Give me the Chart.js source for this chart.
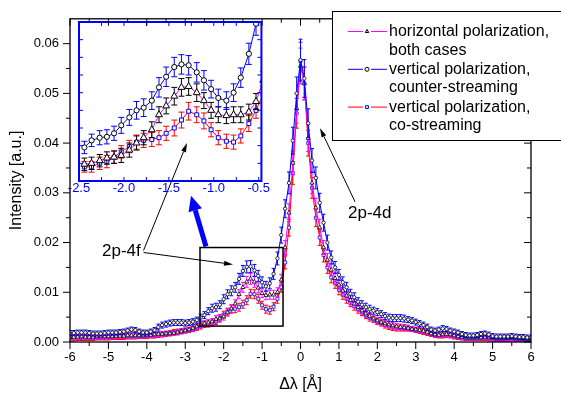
<!DOCTYPE html>
<html>
<head>
<meta charset="utf-8">
<script src="https://cdn.jsdelivr.net/npm/chart.js@4.4.1/dist/chart.umd.min.js"></script>
<style>
  html, body { margin: 0; padding: 0; background: #fff; }
  #wrap { position: relative; width: 561px; height: 394px; overflow: hidden; }
  #main { position: absolute; left: 0; top: 0; z-index: 2; }
  #inset { position: absolute; left: 64px; top: 17px; z-index: 1; }
</style>
</head>
<body>
<div id="wrap">
  <canvas id="inset" width="206" height="184"></canvas>
  <canvas id="main" width="561" height="394"></canvas>
</div>
<script>
// wavelength shift, Å
var xShift = [
  -6.0, -5.9, -5.8, -5.7, -5.6, -5.5, -5.4, -5.3, -5.2, -5.1,
  -5.0, -4.9, -4.8, -4.7, -4.6, -4.5, -4.4, -4.3, -4.2, -4.1,
  -4.0, -3.9, -3.8, -3.7, -3.6, -3.5, -3.4, -3.3, -3.2, -3.1,
  -3.0, -2.9, -2.8, -2.7, -2.6, -2.5, -2.4, -2.3, -2.2, -2.1,
  -2.0, -1.9, -1.8, -1.7, -1.6, -1.5, -1.4, -1.3, -1.2, -1.1,
  -1.0, -0.9, -0.8, -0.7, -0.6, -0.5, -0.4, -0.3, -0.2, -0.1,
  0.0, 0.1, 0.2, 0.3, 0.4, 0.5, 0.6, 0.7, 0.8, 0.9,
  1.0, 1.1, 1.2, 1.3, 1.4, 1.5, 1.6, 1.7, 1.8, 1.9,
  2.0, 2.1, 2.2, 2.3, 2.4, 2.5, 2.6, 2.7, 2.8, 2.9,
  3.0, 3.1, 3.2, 3.3, 3.4, 3.5, 3.6, 3.7, 3.8, 3.9,
  4.0, 4.1, 4.2, 4.3, 4.4, 4.5, 4.6, 4.7, 4.8, 4.9,
  5.0, 5.1, 5.2, 5.3, 5.4, 5.5, 5.6, 5.7, 5.8, 5.9,
  6.0
];

// horizontal polarization, both cases
var yHoriz = [
  .0010, .0010, .0010, .0011, .0010, .0010, .0010, .0011, .0011, .0011,
  .0011, .0011, .0012, .0012, .0012, .0013, .0013, .0013, .0013, .0013,
  .0014, .0014, .0015, .0016, .0016, .0017, .0017, .0018, .0019, .0021,
  .0023, .0025, .0028, .0031, .0034, .0037, .0039, .0041, .0046, .0047,
  .0051, .0059, .0067, .0077, .0096, .0110, .0121, .0127, .0121, .0109,
  .0098, .0094, .0095, .0095, .0100, .0125, .0190, .0260, .0360, .0470,
  .0555, .0520, .0410, .0320, .0270, .0230, .0190, .0165, .0145, .0128,
  .0115, .0103, .0093, .0084, .0077, .0070, .0063, .0057, .0052, .0047,
  .0043, .0040, .0037, .0035, .0033, .0031, .0030, .0029, .0028, .0026,
  .0025, .0024, .0022, .0020, .0017, .0015, .0014, .0015, .0016, .0015,
  .0013, .0011, .0010, .0009, .0008, .0009, .0009, .0009, .0010, .0009,
  .0008, .0007, .0007, .0007, .0008, .0008, .0007, .0007, .0006, .0006,
  .0006
];

// vertical polarization, counter-streaming
var yVertCounter = [
  .0018, .0018, .0019, .0019, .0019, .0018, .0017, .0017, .0017, .0018,
  .0019, .0019, .0019, .0020, .0021, .0023, .0025, .0024, .0021, .0019,
  .0019, .0021, .0024, .0030, .0034, .0036, .0038, .0039, .0039, .0039,
  .0038, .0039, .0041, .0044, .0049, .0054, .0062, .0068, .0070, .0075,
  .0086, .0096, .0103, .0110, .0127, .0143, .0151, .0152, .0144, .0133,
  .0120, .0112, .0118, .0137, .0168, .0215, .0268, .0320, .0405, .0500,
  .0567, .0530, .0440, .0365, .0330, .0280, .0240, .0200, .0170, .0150,
  .0135, .0120, .0110, .0097, .0090, .0081, .0075, .0070, .0066, .0063,
  .0060, .0056, .0052, .0049, .0048, .0048, .0048, .0047, .0045, .0043,
  .0040, .0037, .0034, .0030, .0025, .0023, .0025, .0027, .0026, .0023,
  .0021, .0019, .0016, .0014, .0013, .0013, .0014, .0016, .0017, .0015,
  .0012, .0011, .0011, .0011, .0011, .0012, .0011, .0010, .0010, .0009,
  .0009
];

// vertical polarization, co-streaming
var yVertCo = [
  .0007, .0007, .0008, .0008, .0008, .0008, .0008, .0009, .0009, .0009,
  .0009, .0010, .0010, .0010, .0010, .0011, .0011, .0011, .0012, .0012,
  .0012, .0013, .0013, .0014, .0015, .0016, .0018, .0020, .0021, .0022,
  .0023, .0024, .0026, .0029, .0032, .0035, .0036, .0038, .0041, .0048,
  .0055, .0061, .0066, .0067, .0070, .0076, .0084, .0097, .0096, .0087,
  .0074, .0066, .0064, .0071, .0087, .0110, .0160, .0230, .0340, .0460,
  .0565, .0520, .0400, .0310, .0250, .0210, .0175, .0150, .0130, .0118,
  .0105, .0095, .0087, .0079, .0072, .0066, .0060, .0054, .0049, .0045,
  .0041, .0038, .0034, .0031, .0029, .0028, .0028, .0028, .0027, .0026,
  .0024, .0022, .0020, .0018, .0016, .0014, .0013, .0013, .0014, .0013,
  .0011, .0010, .0009, .0008, .0008, .0008, .0008, .0008, .0008, .0007,
  .0007, .0006, .0006, .0006, .0006, .0007, .0006, .0006, .0006, .0005,
  .0005
];

// error bar half heights, in units of 1e-4
var ERR_UNIT = 1e-4;
var errHoriz = [
  5, 5, 5, 5, 5, 5, 5, 5, 5, 5,
  5, 5, 5, 5, 5, 5, 5, 5, 5, 5,
  5, 5, 5, 5, 5, 5, 5, 5, 5, 5,
  5, 5, 6, 6, 6, 6, 6, 6, 7, 7,
  7, 7, 8, 8, 9, 10, 11, 11, 11, 10,
  9, 9, 9, 9, 9, 11, 14, 18, 24, 30,
  36, 33, 27, 22, 19, 17, 14, 13, 12, 11,
  10, 10, 9, 9, 8, 8, 7, 7, 7, 7,
  6, 6, 6, 6, 6, 6, 6, 6, 6, 5,
  5, 5, 5, 5, 5, 5, 5, 5, 5, 5,
  5, 5, 5, 5, 5, 5, 5, 5, 5, 5,
  5, 5, 5, 5, 5, 5, 5, 5, 5, 5,
  5
];
var errVertCounter = [
  5, 5, 5, 5, 5, 5, 5, 5, 5, 5,
  5, 5, 5, 5, 5, 5, 5, 5, 5, 5,
  5, 5, 5, 6, 6, 6, 6, 6, 6, 6,
  6, 6, 6, 6, 7, 7, 7, 8, 8, 8,
  9, 9, 10, 10, 11, 11, 12, 12, 12, 11,
  11, 10, 11, 11, 13, 16, 18, 22, 27, 33,
  42, 38, 29, 24, 22, 19, 17, 15, 13, 12,
  11, 11, 10, 9, 9, 8, 8, 8, 8, 7,
  7, 7, 7, 7, 7, 7, 7, 7, 6, 6,
  6, 6, 6, 6, 5, 5, 5, 6, 5, 5,
  5, 5, 5, 5, 5, 5, 5, 5, 5, 5,
  5, 5, 5, 5, 5, 5, 5, 5, 5, 5,
  5
];
var errVertCo = [
  5, 5, 5, 5, 5, 5, 5, 5, 5, 5,
  5, 5, 5, 5, 5, 5, 5, 5, 5, 5,
  5, 5, 5, 5, 5, 5, 5, 5, 5, 5,
  5, 5, 5, 6, 6, 6, 6, 6, 6, 7,
  7, 7, 8, 8, 8, 8, 9, 9, 9, 9,
  8, 8, 8, 8, 9, 10, 13, 17, 23, 30,
  38, 33, 26, 21, 18, 16, 14, 12, 11, 10,
  10, 9, 9, 8, 8, 8, 7, 7, 7, 6,
  6, 6, 6, 6, 6, 6, 6, 6, 5, 5,
  5, 5, 5, 5, 5, 5, 5, 5, 5, 5,
  5, 5, 5, 5, 5, 5, 5, 5, 5, 5,
  5, 5, 5, 5, 5, 5, 5, 5, 5, 5,
  5
];

// inset: the 2p-4f region, read at its own finer sampling
var insetX = [-2.44, -2.36, -2.27, -2.19, -2.11, -2.03, -1.94, -1.86, -1.78, -1.69, -1.61, -1.53,
  -1.44, -1.36, -1.28, -1.19, -1.11, -1.03, -0.95, -0.86, -0.78, -0.70, -0.61, -0.53, -0.45];
var insetHoriz = [.0039, .0040, .0043, .0046, .0047, .0049, .0055, .0063, .0069, .0078, .0095, .0105,
  .0116, .0126, .0127, .0120, .0111, .0100, .0095, .0094, .0095, .0095, .0098, .0110, .0134];
var insetVertCounter = [.0058, .0066, .0069, .0070, .0074, .0083, .0092, .0100, .0103, .0111, .0126, .0138,
  .0149, .0152, .0151, .0143, .0134, .0124, .0114, .0111, .0120, .0137, .0164, .0198];
var insetVertCo = [.0036, .0036, .0040, .0042, .0047, .0053, .0059, .0064, .0066, .0067, .0069, .0074,
  .0080, .0089, .0099, .0095, .0088, .0078, .0069, .0065, .0064, .0071, .0085, .0100, .0118];
var insetErrHoriz = [7, 7, 7, 7, 7, 8, 8, 8, 8, 9, 9, 9, 10, 10, 10, 10, 9, 9, 9, 9, 9, 9, 9, 9, 10];
var insetErrVertCounter = [7, 7, 8, 8, 8, 9, 9, 10, 10, 10, 11, 11, 11, 11, 11, 11, 11, 10, 10, 10, 10, 11, 12, 13];
var insetErrVertCo = [6, 6, 7, 7, 7, 7, 7, 8, 8, 8, 8, 8, 9, 9, 10, 9, 9, 8, 8, 8, 8, 8, 9, 9, 10];

var xTicks = { min: -6, max: 6, step: 1 };
var yTicks = { min: 0, max: 0.065, step: 0.01 };
var insetRange = { xmin: -2.5, xmax: -0.47, ymin: 0.002, ymax: 0.020 };

// annotations, in axis units (Å, a.u.)
var zoomBox = [-2.616, 0.0032, -0.455, 0.0190];
var label4d = { text: "2p-4d", x: 1.236, y: 0.0258 };
var arrow4d = [1.42, 0.0282, 0.508, 0.0430];
var label4f = { text: "2p-4f", x: -5.167, y: 0.0182 };
var arrow4fInset = [-4.086, 0.0184, -2.954, 0.0400];
var arrow4fPeak = [-4.086, 0.0180, -1.757, 0.0156];
var zoomArrow = [-2.46, 0.0192, -2.85, 0.0294];

var BLUE = "#0000ff", MAGENTA = "#ff00ff", RED = "#ff0000", BLACK = "#000000";
var FONT = "'Liberation Sans', Arial, Helvetica, sans-serif";

Chart.defaults.font.family = FONT;
Chart.defaults.color = BLACK;

function toPoints(xs, ys) {
  return ys.map(function (y, i) { return { x: xs[i], y: y }; });
}

function toErrors(list) {
  return list.map(function (e) { return e * ERR_UNIT; });
}

function series(label, xs, ys, errs, lineColor, errColor, style, radius, markColor, cap, markWidth) {
  return {
    label: label,
    data: toPoints(xs, ys),
    errors: toErrors(errs),
    errColor: errColor,
    cap: cap,
    borderColor: lineColor,
    borderWidth: 1,
    pointStyle: style,
    pointRadius: radius,
    pointBorderColor: markColor,
    pointBackgroundColor: "#fff",
    pointBorderWidth: markWidth,
    tension: 0,
    fill: false
  };
}

var errorBars = {
  id: "errorBars",
  beforeDatasetDraw: function (chart, args) {
    var ds = chart.data.datasets[args.index];
    if (!ds.errors) return;
    var ctx = chart.ctx, ys = chart.scales.y, a = chart.chartArea, cap = ds.cap;
    ctx.save();
    ctx.beginPath();
    ctx.rect(a.left, a.top, a.right - a.left, a.bottom - a.top);
    ctx.clip();
    ctx.strokeStyle = ds.errColor;
    ctx.lineWidth = 1;
    ctx.beginPath();
    args.meta.data.forEach(function (pt, i) {
      var v = ds.data[i].y, e = ds.errors[i];
      var t = ys.getPixelForValue(v + e), b = ys.getPixelForValue(v - e);
      ctx.moveTo(pt.x, t); ctx.lineTo(pt.x, b);
      ctx.moveTo(pt.x - cap, t); ctx.lineTo(pt.x + cap, t);
      ctx.moveTo(pt.x - cap, b); ctx.lineTo(pt.x + cap, b);
    });
    ctx.stroke();
    ctx.restore();
  }
};

function arrow(ctx, x1, y1, x2, y2, len, half, color, width) {
  var a = Math.atan2(y2 - y1, x2 - x1);
  var bx = x2 - len * Math.cos(a), by = y2 - len * Math.sin(a);
  ctx.strokeStyle = color; ctx.fillStyle = color; ctx.lineWidth = width;
  ctx.beginPath(); ctx.moveTo(x1, y1); ctx.lineTo(bx, by); ctx.stroke();
  ctx.beginPath();
  ctx.moveTo(x2, y2);
  ctx.lineTo(bx + half * Math.sin(a), by - half * Math.cos(a));
  ctx.lineTo(bx - half * Math.sin(a), by + half * Math.cos(a));
  ctx.closePath(); ctx.fill();
}

function marker(ctx, style, x, y, r) {
  ctx.beginPath();
  if (style === "circle") ctx.arc(x, y, r, 0, Math.PI * 2);
  else if (style === "triangle") {
    ctx.moveTo(x, y - r); ctx.lineTo(x + r * 0.866, y + r / 2); ctx.lineTo(x - r * 0.866, y + r / 2); ctx.closePath();
  } else ctx.rect(x - r * 0.7, y - r * 0.7, r * 1.4, r * 1.4);
  ctx.fill(); ctx.stroke();
}

var legendRows = [
  { text: ["horizontal polarization,", "both cases"], line: MAGENTA, style: "triangle", mark: BLACK },
  { text: ["vertical polarization,", "counter-streaming"], line: BLUE, style: "circle", mark: BLACK },
  { text: ["vertical polarization,", "co-streaming"], line: RED, style: "rect", mark: BLUE }
];

function drawLegend(ctx) {
  ctx.fillStyle = "#fff";
  ctx.fillRect(332, 11, 240, 129);
  ctx.strokeStyle = BLACK; ctx.lineWidth = 1;
  ctx.strokeRect(332.5, 11.5, 240, 129);
  ctx.font = "16px " + FONT;
  ctx.textAlign = "left"; ctx.textBaseline = "middle";
  legendRows.forEach(function (row, k) {
    var y = 31.5 + k * 37.8;
    ctx.strokeStyle = row.line; ctx.lineWidth = 1;
    ctx.beginPath();
    ctx.moveTo(348, y); ctx.lineTo(363, y);
    ctx.moveTo(371, y); ctx.lineTo(387, y);
    ctx.stroke();
    ctx.strokeStyle = row.mark; ctx.fillStyle = "#fff";
    marker(ctx, row.style, 367, y, 2);
    ctx.fillStyle = BLACK;
    ctx.fillText(row.text[0], 389, y);
    ctx.fillText(row.text[1], 389, y + 18.7);
  });
}

var mainDecor = {
  id: "mainDecor",
  afterDraw: function (chart) {
    var ctx = chart.ctx, a = chart.chartArea, xs = chart.scales.x, ys = chart.scales.y;
    var i, p, len;
    function px(v) { return xs.getPixelForValue(v); }
    function py(v) { return ys.getPixelForValue(v); }
    ctx.save();
    ctx.strokeStyle = BLACK; ctx.lineWidth = 1.3;
    ctx.strokeRect(a.left, a.top, a.right - a.left, a.bottom - a.top);
    ctx.lineWidth = 1;
    ctx.beginPath();
    for (i = 0; i <= 24; i++) {
      p = px(xTicks.min + i * 0.5); len = i % 2 ? 4 : 7;
      ctx.moveTo(p, a.bottom); ctx.lineTo(p, a.bottom + len);
      ctx.moveTo(p, a.top); ctx.lineTo(p, a.top + len);
    }
    for (i = 0; i <= 12; i++) {
      p = py(i * 0.005); len = i % 2 ? 4 : 7;
      ctx.moveTo(a.left, p); ctx.lineTo(a.left - len, p);
      ctx.moveTo(a.right, p); ctx.lineTo(a.right - len, p);
    }
    ctx.stroke();

    // zoomed region
    ctx.lineWidth = 1.5;
    ctx.strokeRect(px(zoomBox[0]), py(zoomBox[3]), px(zoomBox[2]) - px(zoomBox[0]), py(zoomBox[1]) - py(zoomBox[3]));

    arrow(ctx, px(arrow4d[0]), py(arrow4d[1]), px(arrow4d[2]), py(arrow4d[3]), 9, 2.5, BLACK, 1);
    arrow(ctx, px(arrow4fInset[0]), py(arrow4fInset[1]), px(arrow4fInset[2]), py(arrow4fInset[3]), 9, 2.5, BLACK, 1);
    arrow(ctx, px(arrow4fPeak[0]), py(arrow4fPeak[1]), px(arrow4fPeak[2]), py(arrow4fPeak[3]), 9, 2.5, BLACK, 1);
    arrow(ctx, px(zoomArrow[0]), py(zoomArrow[1]), px(zoomArrow[2]), py(zoomArrow[3]), 15, 7, BLUE, 5);

    ctx.fillStyle = BLACK;
    ctx.font = "17px " + FONT;
    ctx.textAlign = "left"; ctx.textBaseline = "middle";
    ctx.fillText(label4d.text, px(label4d.x), py(label4d.y));
    ctx.fillText(label4f.text, px(label4f.x), py(label4f.y));

    drawLegend(ctx);
    ctx.restore();
  }
};

var insetDecor = {
  id: "insetDecor",
  afterDraw: function (chart) {
    var ctx = chart.ctx, a = chart.chartArea, xs = chart.scales.x, ys = chart.scales.y;
    var i, p;
    ctx.save();
    ctx.strokeStyle = BLUE; ctx.lineWidth = 2;
    ctx.strokeRect(a.left, a.top, a.right - a.left, a.bottom - a.top);
    ctx.lineWidth = 1;
    ctx.beginPath();
    for (i = 0; i <= 8; i++) {
      p = xs.getPixelForValue(insetRange.xmin + i * 0.25);
      ctx.moveTo(p, a.bottom); ctx.lineTo(p, a.bottom - 4);
      ctx.moveTo(p, a.top); ctx.lineTo(p, a.top + 4);
    }
    for (i = 1; i <= 8; i++) {
      p = ys.getPixelForValue(insetRange.ymin + i * 0.002);
      ctx.moveTo(a.left, p); ctx.lineTo(a.left + 4, p);
      ctx.moveTo(a.right, p); ctx.lineTo(a.right - 4, p);
    }
    ctx.stroke();
    ctx.restore();
  }
};

new Chart(document.getElementById("main"), {
  type: "line",
  data: {
    datasets: [
      series("vertical polarization, counter-streaming", xShift, yVertCounter, errVertCounter, BLUE, BLUE, "circle", 1.7, BLACK, 2, 0.8),
      series("horizontal polarization, both cases", xShift, yHoriz, errHoriz, MAGENTA, MAGENTA, "triangle", 2.4, BLACK, 2, 0.8),
      series("vertical polarization, co-streaming", xShift, yVertCo, errVertCo, RED, RED, "rect", 2.1, BLUE, 2, 0.8)
    ]
  },
  options: {
    responsive: false,
    animation: false,
    events: [],
    layout: { autoPadding: false, padding: { left: 0, right: 30, top: 17, bottom: 0 } },
    plugins: { legend: { display: false }, tooltip: { enabled: false } },
    scales: {
      x: {
        type: "linear", min: xTicks.min, max: xTicks.max,
        grid: { display: false, drawTicks: false },
        border: { display: false },
        ticks: { stepSize: xTicks.step, padding: 8, maxRotation: 0, autoSkip: false, includeBounds: false,
          font: { size: 13 }, color: BLACK, callback: function (v) { return String(v); } },
        title: { display: true, text: "Δλ [Å]", font: { size: 16 }, color: BLACK, padding: { top: 0, bottom: 0 } },
        afterFit: function (s) { s.height = 52; }
      },
      y: {
        min: yTicks.min, max: yTicks.max,
        grid: { display: false, drawTicks: false },
        border: { display: false },
        ticks: { stepSize: yTicks.step, padding: 11, includeBounds: false,
          font: { size: 13 }, color: BLACK, callback: function (v) { return v.toFixed(2); } },
        title: { display: true, text: "Intensity [a.u.]", font: { size: 16 }, color: BLACK, padding: { top: 7, bottom: 0 } },
        afterFit: function (s) { s.width = 70; }
      }
    }
  },
  plugins: [errorBars, mainDecor]
});

new Chart(document.getElementById("inset"), {
  type: "line",
  data: {
    datasets: [
      series("vertical polarization, counter-streaming", insetX, insetVertCounter, insetErrVertCounter, BLUE, BLUE, "circle", 2.6, BLACK, 3, 1),
      series("horizontal polarization, both cases", insetX, insetHoriz, insetErrHoriz, MAGENTA, BLACK, "triangle", 4, BLACK, 3, 1),
      series("vertical polarization, co-streaming", insetX, insetVertCo, insetErrVertCo, RED, RED, "rect", 2.8, BLUE, 3, 1)
    ]
  },
  options: {
    responsive: false,
    animation: false,
    events: [],
    layout: { autoPadding: false, padding: { left: 15, right: 4, top: 5, bottom: 0 } },
    plugins: { legend: { display: false }, tooltip: { enabled: false } },
    scales: {
      x: {
        type: "linear", min: insetRange.xmin, max: insetRange.xmax,
        grid: { display: false, drawTicks: false },
        border: { display: false },
        ticks: { stepSize: 0.5, padding: 0, maxRotation: 0, autoSkip: false, includeBounds: false,
          font: { size: 13 }, color: BLUE, callback: function (v) { return v.toFixed(1); } },
        afterFit: function (s) { s.height = 20; }
      },
      y: { display: false, min: insetRange.ymin, max: insetRange.ymax }
    }
  },
  plugins: [errorBars, insetDecor]
});
</script>
</body>
</html>
